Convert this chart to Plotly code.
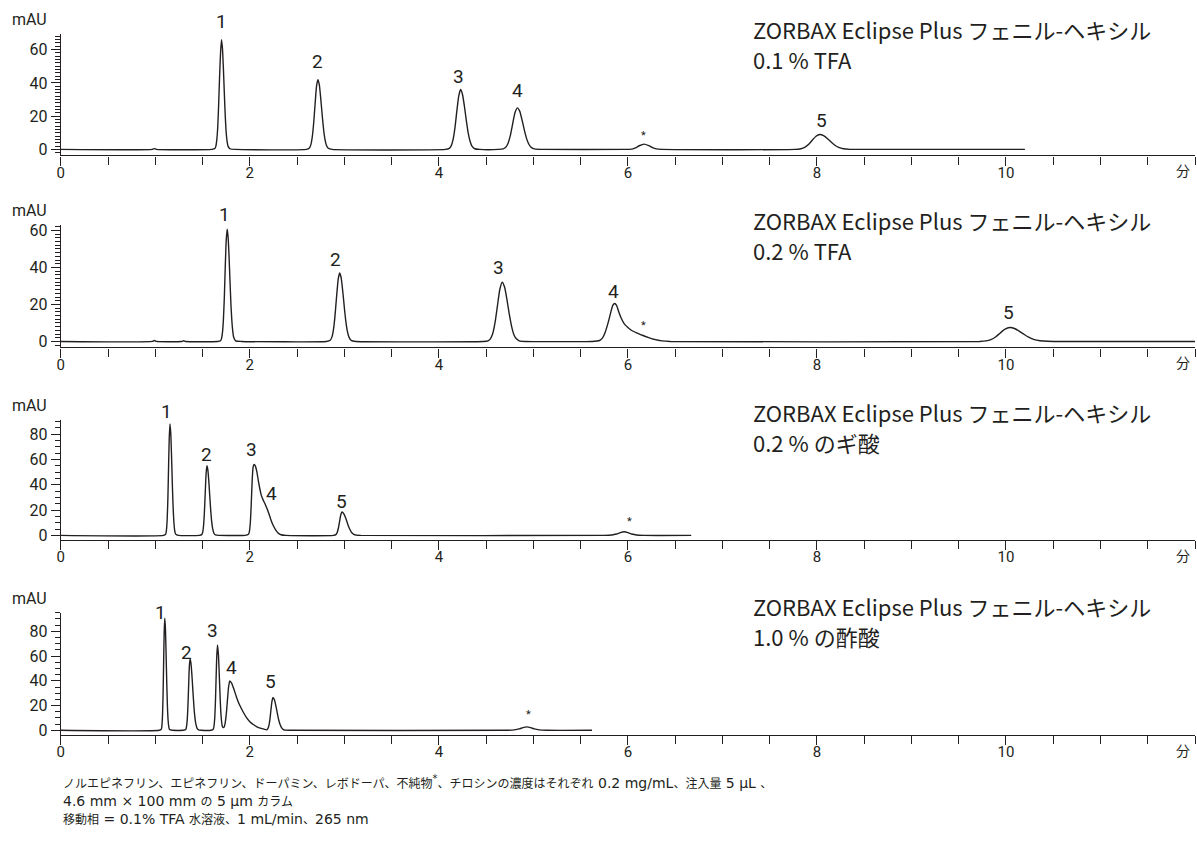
import re
import plotly.graph_objects as go

# ---------------- data ----------------
# Panel 1: 0.1 % TFA
t1 = [0, 0.97, 0.99, 1.01,
      1.60, 1.63, 1.64, 1.65, 1.66, 1.67, 1.68, 1.69, 1.70, 1.71, 1.72, 1.73, 1.74, 1.75, 1.76, 1.77, 1.79, 1.85,
      2.60, 2.63, 2.645, 2.66, 2.675, 2.69, 2.705, 2.72, 2.735, 2.75, 2.765, 2.78, 2.795, 2.81, 2.83, 2.87,
      4.07, 4.11, 4.13, 4.15, 4.17, 4.19, 4.21, 4.23, 4.25, 4.27, 4.29, 4.31, 4.33, 4.35, 4.38, 4.43,
      4.63, 4.68, 4.705, 4.73, 4.755, 4.78, 4.805, 4.83, 4.855, 4.88, 4.905, 4.93, 4.955, 4.98, 5.01, 5.08,
      5.98, 6.04, 6.08, 6.12, 6.17, 6.22, 6.26, 6.30, 6.36,
      7.77, 7.83, 7.87, 7.91, 7.95, 7.99, 8.03, 8.07, 8.11, 8.15, 8.19, 8.23, 8.28, 8.35, 8.43,
      10.2]
a1 = [0, 0, 0.5, 0,
      0, 0.5, 1.8, 5.6, 13, 27, 44, 58, 66, 61, 49, 34, 20, 10, 4.5, 1.8, 0.4, 0,
      0, 0.8, 2.7, 7.3, 15.6, 27, 37.8, 42, 39, 30.7, 21, 12.1, 6, 2.5, 0.7, 0,
      0, 0.6, 2.1, 5.9, 13, 23, 32, 36, 33, 26, 17.5, 10, 4.9, 2, 0.4, 0,
      0, 0.3, 1.1, 3.4, 8.1, 15.2, 22, 25, 23, 17.7, 11.5, 6.2, 2.8, 1.1, 0.3, 0,
      0, 0.2, 0.9, 2.2, 3.2, 2.3, 1.1, 0.3, 0,
      0, 0.4, 1.2, 2.9, 5.5, 7.9, 9, 8.3, 6.6, 4.4, 2.5, 1.2, 0.4, 0.05, 0,
      0]

# Panel 2: 0.2 % TFA
t2 = [0, 0.97, 0.99, 1.01, 1.28, 1.30, 1.32,
      1.66, 1.69, 1.70, 1.71, 1.72, 1.73, 1.74, 1.75, 1.76, 1.77, 1.78, 1.79, 1.80, 1.81, 1.82, 1.83, 1.85, 1.91,
      2.81, 2.85, 2.87, 2.885, 2.90, 2.915, 2.935, 2.95, 2.965, 2.985, 3.00, 3.015, 3.03, 3.05, 3.075, 3.12,
      4.47, 4.52, 4.545, 4.57, 4.595, 4.62, 4.645, 4.67, 4.695, 4.72, 4.745, 4.77, 4.795, 4.82, 4.85, 4.92,
      5.62, 5.70, 5.73, 5.76, 5.79, 5.82, 5.84, 5.86, 5.88, 5.90, 5.93, 5.96, 6.00, 6.04, 6.10, 6.16, 6.22, 6.28, 6.36, 6.45,
      9.72, 9.79, 9.84, 9.89, 9.94, 9.99, 10.04, 10.09, 10.14, 10.19, 10.24, 10.30, 10.36, 10.44, 10.54,
      12.0]
a2 = [0, 0, 0.5, 0, 0, 0.4, 0,
      0, 0.4, 1.5, 4.6, 11.5, 23.6, 40.5, 54.5, 60.6, 56.4, 46, 32.7, 20, 10.9, 5.2, 2.1, 0.3, 0,
      0, 0.6, 2.6, 6.5, 13.3, 22.6, 33.7, 37, 34.7, 26.2, 18.2, 11.1, 6, 2.2, 0.4, 0,
      0, 0.35, 1.4, 4.3, 10.4, 19.4, 28.2, 32, 29.4, 22.7, 14.7, 8, 3.5, 1.4, 0.35, 0,
      0, 0.5, 1.8, 5, 10, 16, 19.5, 20.5, 19.5, 16.5, 12.5, 9.6, 7.5, 5.9, 4.5, 3.2, 2.1, 1.1, 0.3, 0,
      0, 0.3, 1, 2.4, 4.6, 6.6, 7.5, 7, 5.6, 3.9, 2.3, 1, 0.4, 0.1, 0,
      0]

# Panel 3: 0.2 % formic acid
t3 = [0,
      1.085, 1.11, 1.117, 1.125, 1.133, 1.14, 1.147, 1.155, 1.163, 1.171, 1.179, 1.187, 1.195, 1.205, 1.215, 1.245,
      1.466, 1.491, 1.501, 1.51, 1.519, 1.528, 1.537, 1.546, 1.556, 1.566, 1.576, 1.586, 1.596, 1.606, 1.621, 1.636, 1.676,
      1.95, 1.985, 1.995, 2.005, 2.015, 2.025, 2.035, 2.045, 2.06, 2.075, 2.09, 2.105, 2.12, 2.14, 2.16, 2.18, 2.20, 2.22, 2.24, 2.26, 2.28, 2.30, 2.33, 2.38,
      2.885, 2.913, 2.925, 2.938, 2.95, 2.963, 2.975, 2.995, 3.015, 3.035, 3.055, 3.075, 3.10, 3.125, 3.175,
      5.75, 5.83, 5.88, 5.92, 5.96, 6.00, 6.04, 6.09, 6.17,
      6.67]
a3 = [0,
      0, 1, 3.8, 11.9, 29.8, 53.5, 76.5, 88, 81, 64, 43, 24.4, 11.9, 3.8, 1, 0,
      0, 0.6, 2.4, 7.4, 17.8, 33.4, 48.4, 55, 51.5, 42.7, 31, 19.9, 11, 5.5, 1.5, 0.3, 0,
      0, 0.8, 3, 10, 25, 44, 54, 56, 54.5, 50, 43, 37, 32, 28, 25, 21.5, 17.5, 13, 9, 6, 3.5, 1.8, 0.5, 0,
      0, 0.8, 2.5, 6.2, 11.3, 16.5, 18.5, 17, 13.5, 9, 5.2, 2.5, 0.8, 0.2, 0,
      0, 0.3, 1.1, 2.2, 2.8, 2.2, 1.1, 0.3, 0,
      0]

# Panel 4: 1.0 % acetic acid
t4 = [0,
      1.04, 1.064, 1.070, 1.076, 1.082, 1.088, 1.094, 1.100, 1.107, 1.114, 1.121, 1.128, 1.135, 1.142, 1.150, 1.18,
      1.297, 1.322, 1.329, 1.337, 1.345, 1.352, 1.359, 1.367, 1.377, 1.387, 1.397, 1.407, 1.417, 1.427, 1.442, 1.457, 1.487,
      1.588, 1.613, 1.620, 1.628, 1.636, 1.643, 1.650, 1.658, 1.668, 1.678, 1.688, 1.698, 1.708, 1.718, 1.728, 1.738,
      1.748, 1.756, 1.763, 1.776, 1.788, 1.808, 1.828, 1.858, 1.888, 1.928, 1.963, 2.0, 2.04, 2.07, 2.12,
      2.179, 2.190, 2.201, 2.212, 2.223, 2.234, 2.245, 2.26, 2.275, 2.29, 2.305, 2.32, 2.335, 2.355, 2.375, 2.415,
      4.72, 4.80, 4.85, 4.89, 4.93, 4.97, 5.01, 5.06, 5.14,
      5.62]
a4 = [0,
      0, 1, 4, 12.2, 29, 55, 80, 90.6, 82, 61.6, 38.5, 19.6, 8.3, 3, 0.7, 0,
      0, 0.6, 2.5, 7.8, 19.6, 35.3, 50.3, 57.8, 54.2, 44.9, 32.5, 20.9, 11.6, 5.8, 1.6, 0.35, 0,
      0, 0.8, 3, 9.3, 23.5, 42, 60, 69, 60.7, 42, 22, 9.3, 3.5, 2.2, 2.6, 5.4,
      11, 17.6, 24.4, 35.6, 40, 38, 34, 27, 21, 15, 10.5, 7, 4.5, 3, 1.5,
      0.4, 1.3, 3.6, 8.5, 16.2, 23.4, 26.6, 24.7, 20, 14.1, 8.5, 4.6, 2.1, 0.6, 0.13, 0,
      0, 0.3, 1.1, 2.2, 2.8, 2.2, 1.1, 0.3, 0,
      0]

column_name = "ZORBAX Eclipse Plus フェニル-ヘキシル"
conditions = ["0.1 % TFA", "0.2 % TFA", "0.2 % のギ酸", "1.0 % の酢酸"]
x_tick_vals = [0, 2, 4, 6, 8, 10]
x_unit = "分"
y_unit = "mAU"
peak_names = [["1", "2", "3", "4", "*", "5"],
              ["1", "2", "3", "4", "*", "5"],
              ["1", "2", "3", "4", "5", "*"],
              ["1", "2", "3", "4", "5", "*"]]
caption = ["ノルエピネフリン、エピネフリン、ドーパミン、レボドーパ、不純物<sup>*</sup>、チロシンの濃度はそれぞれ 0.2 mg/mL、注入量 5 µL 、",
           "4.6 mm × 100 mm の 5 µm カラム",
           "移動相 = 0.1% TFA 水溶液、1 mL/min、265 nm"]

# ---------------- layout (positions / styles) ----------------
W, H = 1197, 858
INK = "#231f20"
NUM_FONT = "Roboto, sans-serif"
JP_FONT = "Noto Sans CJK JP, sans-serif"
CAP_FONT = "DejaVu Sans, Noto Sans CJK JP, sans-serif"

series = [(t1, a1), (t2, a2), (t3, a3), (t4, a4)]
panel_px = [(30, 153), (223, 347), (420, 542), (615, 739)]   # top / bottom pixel of each panel
y_ranges = [[-3.6, 69.6], [-3.2, 63.1], [-3.9, 91.4], [-4.0, 95.2]]
y_minor = [2, 2, 5, 5]
title_px = [31, 224, 418, 614]          # visual centre of first title line
label_pos = [
    [(1.70, 75.6), (2.72, 51.8), (4.21, 42.9), (4.83, 34.3), (6.17, 7.1), (8.05, 16.0)],
    [(1.735, 67.4), (2.91, 43.3), (4.63, 39.0), (5.85, 25.8), (6.16, 7.7), (10.03, 14.4)],
    [(1.12, 96.6), (1.54, 62.3), (2.02, 65.9), (2.23, 31.5), (2.975, 25.0), (6.02, 9.4)],
    [(1.054, 93.6), (1.325, 61.6), (1.60, 79.2), (1.81, 48.8), (2.22, 37.6), (4.95, 11.2)],
]

x0_px, x1_px = 57, 1195
XMAX = 12
CAP_LATIN, CAP_CJK = 14, 12


def py(p):
    return 1 - p / H


def is_cjk(ch):
    o = ord(ch)
    return (0x3000 <= o <= 0x30FF) or (0x4E00 <= o <= 0x9FFF) or (0xFF00 <= o <= 0xFFEF)


def mixed(text):
    """CJK runs in a slightly smaller Noto CJK, Latin runs in the base font."""
    out, buf, cur = [], "", None
    for tok in re.findall(r"<[^>]+>|.", text):
        if tok.startswith("<"):
            if buf:
                out.append((cur, buf))
                buf, cur = "", None
            out.append(("tag", tok))
            continue
        kind = "cjk" if is_cjk(tok) else "lat"
        if cur is not None and kind != cur:
            out.append((cur, buf))
            buf = ""
        cur = kind
        buf += tok
    if buf:
        out.append((cur, buf))
    s = ""
    for kind, chunk in out:
        if kind == "cjk":
            s += f'<span style="font-size:{CAP_CJK}px;font-family:Noto Sans CJK JP">{chunk}</span>'
        else:
            s += chunk
    return s


fig = go.Figure()
annotations = []
layout = dict(
    width=W, height=H,
    margin=dict(l=0, r=0, t=0, b=0),
    paper_bgcolor="white", plot_bgcolor="white",
    showlegend=False,
    font=dict(family=NUM_FONT, color=INK, size=15),
)

for i, (t, a) in enumerate(series):
    n = i + 1
    xa = "x" if n == 1 else f"x{n}"
    ya = "y" if n == 1 else f"y{n}"
    fig.add_trace(go.Scatter(x=t, y=a, mode="lines", xaxis=xa, yaxis=ya,
                             line=dict(color=INK, width=1.4, shape="spline", smoothing=0.5),
                             hoverinfo="skip"))
    top, bot = panel_px[i]
    dom = [py(bot), py(top)]
    r0, r1 = y_ranges[i]
    layout["xaxis" if n == 1 else f"xaxis{n}"] = dict(
        domain=[x0_px / W, x1_px / W], range=[0, XMAX], anchor=ya,
        showline=True, linecolor=INK, linewidth=1.3, showgrid=False, zeroline=False,
        tickmode="array", tickvals=x_tick_vals, ticks="outside", ticklen=9, tickwidth=1.2, tickcolor=INK,
        tickfont=dict(family=NUM_FONT, size=15, color=INK), ticklabelstandoff=-6,
        minor=dict(dtick=0.5, tick0=0, ticks="outside", ticklen=8, tickwidth=1.2, tickcolor=INK, showgrid=False),
        fixedrange=True,
    )
    layout["yaxis" if n == 1 else f"yaxis{n}"] = dict(
        domain=dom, range=y_ranges[i], anchor=xa,
        showline=True, linecolor=INK, linewidth=1.3, showgrid=False, zeroline=False,
        tick0=0, dtick=20, ticks="outside", ticklen=9, tickwidth=1.2, tickcolor=INK,
        tickfont=dict(family=NUM_FONT, size=16, color=INK),
        minor=dict(dtick=y_minor[i], tick0=0, ticks="outside", ticklen=5, tickwidth=1, tickcolor=INK, showgrid=False),
        fixedrange=True,
    )
    annotations.append(dict(text=y_unit, xref="paper", yref="paper", x=6 / W, y=py(top - 14),
                            xanchor="left", yanchor="middle", showarrow=False,
                            font=dict(family=NUM_FONT, size=16, color=INK)))
    annotations.append(dict(text=x_unit, xref="paper", yref="paper", x=1183 / W, y=py(bot + 15),
                            xanchor="center", yanchor="middle", showarrow=False,
                            font=dict(family=JP_FONT, size=14, color=INK)))
    annotations.append(dict(text=column_name, xref="paper", yref="paper", x=750 / W, y=py(title_px[i] - 6),
                            xanchor="left", yanchor="middle", showarrow=False,
                            font=dict(family=JP_FONT, size=22, color=INK)))
    annotations.append(dict(text=conditions[i], xref="paper", yref="paper", x=750 / W, y=py(title_px[i] + 25),
                            xanchor="left", yanchor="middle", showarrow=False,
                            font=dict(family=JP_FONT, size=22, color=INK)))
    for name, (lx, ly) in zip(peak_names[i], label_pos[i]):
        px_x = x0_px + lx * (x1_px - x0_px) / XMAX
        pyf = dom[0] + (ly - r0) / (r1 - r0) * (dom[1] - dom[0])
        annotations.append(dict(text=name, xref="paper", yref="paper", x=px_x / W, y=pyf,
                                xanchor="center", yanchor="middle", showarrow=False, yshift=2,
                                font=dict(family=NUM_FONT, size=11 if name == "*" else 19, color=INK)))

annotations.append(dict(text="<br>".join(mixed(line) for line in caption),
                        xref="paper", yref="paper", x=57 / W, y=py(775), align="left",
                        xanchor="left", yanchor="top", showarrow=False,
                        font=dict(family=CAP_FONT, size=CAP_LATIN, color=INK)))

layout["annotations"] = annotations
fig.update_layout(**layout)
fig.write_html("out.html", config={"displayModeBar": False})
